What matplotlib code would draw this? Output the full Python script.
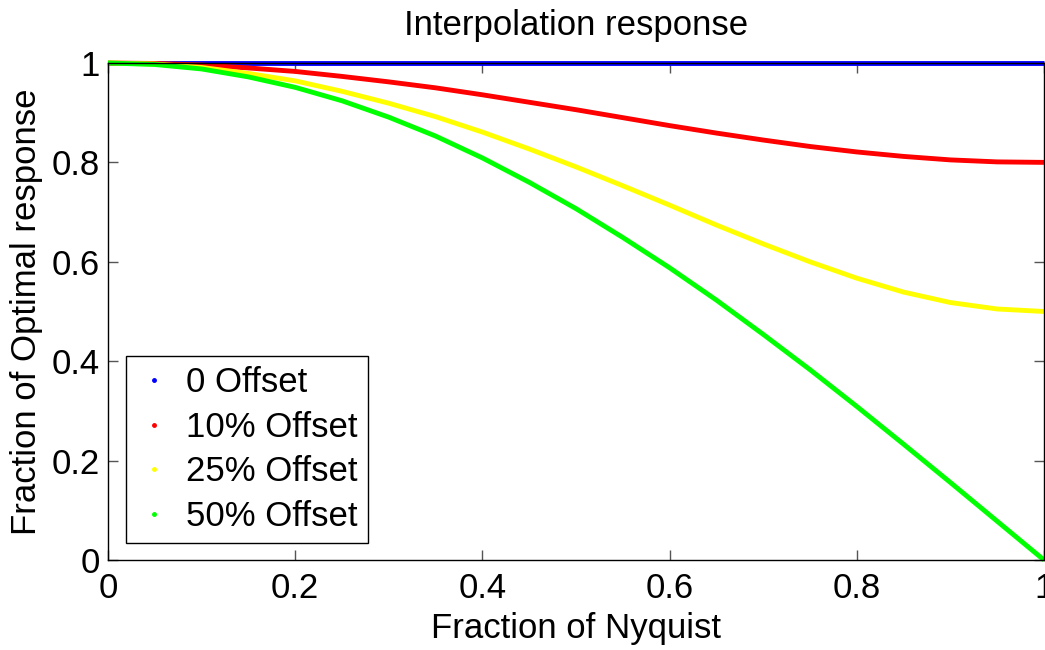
import numpy as np
import matplotlib
matplotlib.use("Agg")
import matplotlib.pyplot as plt
from matplotlib.lines import Line2D

plt.rcParams['font.family'] = ['Liberation Sans', 'DejaVu Sans']

# values at steps of 0.05 of Nyquist
nyquist = [0.0, 0.05, 0.1, 0.15, 0.2, 0.25, 0.3, 0.35, 0.4, 0.45, 0.5,
           0.55, 0.6, 0.65, 0.7, 0.75, 0.8, 0.85, 0.9, 0.95, 1.0]
offset_0 = [1.0] * 21
offset_10 = [1.000, 0.999, 0.996, 0.990, 0.983, 0.973, 0.962, 0.950, 0.936, 0.921, 0.906,
             0.890, 0.874, 0.859, 0.845, 0.832, 0.821, 0.812, 0.805, 0.801, 0.800]
offset_25 = [1.000, 0.998, 0.991, 0.979, 0.964, 0.943, 0.919, 0.892, 0.861, 0.827, 0.791,
             0.753, 0.714, 0.674, 0.636, 0.600, 0.567, 0.539, 0.518, 0.505, 0.500]
offset_50 = [1.000, 0.997, 0.988, 0.972, 0.951, 0.924, 0.891, 0.853, 0.809, 0.760, 0.707,
             0.649, 0.588, 0.523, 0.454, 0.383, 0.309, 0.233, 0.156, 0.078, 0.000]

labels = ["0 Offset", "10% Offset", "25% Offset", "50% Offset"]
colors = ["#0000ff", "#ff0000", "#ffff00", "#00ff00"]
series = [offset_0, offset_10, offset_25, offset_50]

fig = plt.figure(figsize=(10.45, 6.5), dpi=100)
ax = fig.add_axes([0.1033, 0.1385, 0.8957, 0.7646])

for vals, c in zip(series, colors):
    ax.plot(nyquist, vals, color=c, lw=3.5, clip_on=False, solid_capstyle='butt')

ax.set_xlim(0, 1)
ax.set_ylim(0, 1)
ax.set_xticks([0, 0.2, 0.4, 0.6, 0.8, 1])
ax.set_xticklabels(["0", "0.2", "0.4", "0.6", "0.8", "1"])
ax.set_yticks([0, 0.2, 0.4, 0.6, 0.8, 1])
ax.set_yticklabels(["0", "0.2", "0.4", "0.6", "0.8", "1"])
ax.tick_params(direction='in', length=7, width=1, color='#555555', labelsize=25,
               top=True, right=True, pad=6)
ax.tick_params(axis='x', pad=9)
for s in ax.spines.values():
    s.set_linewidth(1)
    s.set_color('black')

ax.set_xlabel("Fraction of Nyquist", fontsize=25, labelpad=5)
ax.set_ylabel("Fraction of Optimal response", fontsize=25, labelpad=6)
ax.set_title("Interpolation response", fontsize=25, pad=20)

handles = [Line2D([], [], color=c, marker='.', markersize=5, linestyle='none') for c in colors]
leg = ax.legend(handles, labels, loc='lower left', bbox_to_anchor=(0.019, 0.034),
                borderaxespad=0, fontsize=25, fancybox=False, framealpha=1,
                edgecolor='black', handlelength=1.0, handletextpad=0.45,
                labelspacing=0.33, borderpad=0.3)
leg.get_frame().set_linewidth(1)

fig.savefig("out.png", dpi=100)
